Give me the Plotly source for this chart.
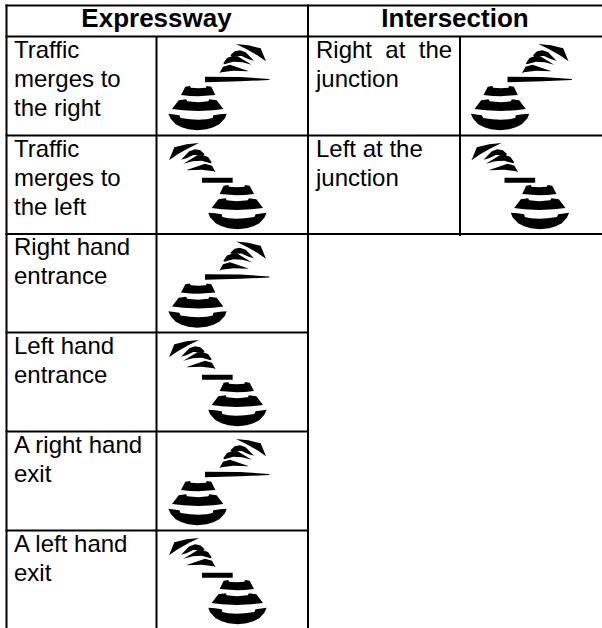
import plotly.graph_objects as go

# table content
headers = ["Expressway", "Intersection"]
expressway_rows = [
    ["Traffic", "merges to", "the right"],
    ["Traffic", "merges to", "the left"],
    ["Right hand", "entrance"],
    ["Left hand", "entrance"],
    ["A right hand", "exit"],
    ["A left hand", "exit"],
]
intersection_rows = [
    ["Right\u00a0\u00a0at\u00a0\u00a0the", "junction"],
    ["Left at the", "junction"],
]
expressway_dir = ["R", "L", "R", "L", "R", "L"]
intersection_dir = ["R", "L"]

# table grid (page pixels)
row_lines = [5.5, 36.5, 135.5, 234, 332.5, 431.5, 530.5]
col_lines = [6.5, 156.5, 308, 460]
page_w, page_h = 602, 628
line_pitch = 29

# icon outlines, in 1/3 pixel units relative to an icon origin
bowl = [(55,251),(72,253),(88,256),(92,264),(120,268),(145,269),(170,268),(188,264),(190,256),(210,253),(230,251),
        (225,265),(208,283),(190,292),(170,298),(142,301),(115,298),(95,292),(77,283),(62,266)]
mid = [(66,237),(86,211),(108,208),(112,214),(145,217),(175,214),(178,208),(200,211),(220,237),(190,241),(145,243),(100,241)]
top = [(93,195),(106,170),(120,168),(122,173),(145,175),(168,173),(170,168),(184,170),(196,195),(170,198),(145,199),(120,198)]
arrow = [(258,42),(295,46),(332,55),(348,94),(322,76),(290,58)]
band2 = [(241,76),(254,64),(270,61),(287,67),(312,92),(296,88),(275,78),(245,79)]
band3 = [(220,100),(231,84),(250,77),(263,79),(305,104),(277,97),(250,95),(223,103)]
band4 = [(208,130),(219,110),(240,104),(297,124),(250,122),(214,127)]
bar_right = [(165,140),(270,141),(358,147),(358,150),(270,154),(165,157)]
bar_left = [(156,146),(248,146),(248,161),(156,161)]
shared_parts = [bowl, mid, top, arrow, band2, band3, band4]
mirror_c = 405

fig = go.Figure()


def icon_trace(direction, ox, oy):
    xs, ys = [], []
    for p in shared_parts:
        for (x, y) in p:
            xs.append(ox + ((mirror_c - x) if direction == "L" else x) / 3)
            ys.append(oy + y / 3)
        xs.append(None); ys.append(None)
    for (x, y) in (bar_left if direction == "L" else bar_right):
        xs.append(ox + x / 3); ys.append(oy + y / 3)
    return go.Scatter(x=xs, y=ys, mode="lines", fill="toself", fillcolor="black",
                      line=dict(width=0, color="black"), hoverinfo="skip")


def text_trace(xs, ys, labels, size, bold=False, pos="middle right"):
    return go.Scatter(x=xs, y=ys, mode="text", text=labels, textposition=pos, hoverinfo="skip",
                      textfont=dict(family="Liberation Sans", size=size, color="black",
                                    weight="bold" if bold else "normal"))


# icons
for i, d in enumerate(expressway_dir):
    fig.add_trace(icon_trace(d, 150, row_lines[i + 1] - 6.5))
for i, d in enumerate(intersection_dir):
    fig.add_trace(icon_trace(d, 452.5, row_lines[i + 1] - 6.5))

# text
for col_x, rows in ((14, expressway_rows), (316, intersection_rows)):
    xs, ys, labels = [], [], []
    for i, lines in enumerate(rows):
        for j, t in enumerate(lines):
            xs.append(col_x); ys.append(row_lines[i + 1] + 15 + j * line_pitch); labels.append(t)
    fig.add_trace(text_trace(xs, ys, labels, 24))
fig.add_trace(text_trace([156.5, 455], [20.5, 20.5], headers, 26, bold=True, pos="middle center"))

# grid lines
lx, ly = [], []
for y in row_lines[:4]:
    lx += [col_lines[0] - 1, page_w, None]; ly += [y, y, None]
for y in row_lines[4:]:
    lx += [col_lines[0] - 1, col_lines[2] + 1, None]; ly += [y, y, None]
for x, y0, y1 in ((col_lines[0], row_lines[0] - 1, page_h),
                  (col_lines[1], row_lines[1], page_h),
                  (col_lines[2], row_lines[0] - 1, page_h),
                  (col_lines[3], row_lines[1], row_lines[3] + 2)):
    lx += [x, x, None]; ly += [y0, y1, None]
fig.add_trace(go.Scatter(x=lx, y=ly, mode="lines", line=dict(color="black", width=2), hoverinfo="skip"))

fig.update_layout(
    width=page_w, height=page_h, margin=dict(l=0, r=0, t=0, b=0),
    paper_bgcolor="white", plot_bgcolor="white", showlegend=False,
    xaxis=dict(range=[0, page_w], visible=False, fixedrange=True),
    yaxis=dict(range=[page_h, 0], visible=False, fixedrange=True),
)
fig.write_html("out.html", config=dict(displayModeBar=False),
               post_script="document.body.style.margin='0';document.body.style.overflow='hidden';")
